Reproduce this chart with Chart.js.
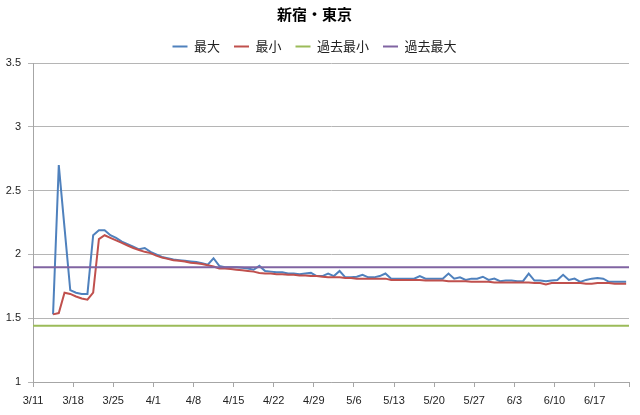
<!DOCTYPE html>
<html>
<head>
<meta charset="utf-8">
<script src="https://cdn.jsdelivr.net/npm/chart.js@4"></script>
<style>
  html, body { margin: 0; padding: 0; background: #fff; }
  #wrap { width: 640px; height: 415px; }
</style>
</head>
<body>
<div id="wrap"><canvas id="grafico" width="640" height="415"></canvas></div>
<script>
// 新宿・東京 daily readings, 2011
const titulo = '新宿・東京';
const nomes = ['最大', '最小', '過去最小', '過去最大'];
const cores = ['#4F81BD', '#C0504D', '#9BBB59', '#8064A2'];

const inicioEixo = [2011, 2, 11];   // 3/11, axis start
const inicioDados = [2011, 2, 14];  // 3/14, first reading
const diasEixo = 104;               // 3/11 .. 6/23
const passoTicks = 7;

// 3/14 .. 6/22
const valoresMax = [
  1.53, 2.70, 2.21, 1.72, 1.70, 1.69, 1.69, 2.15, 2.19, 2.19,
  2.15, 2.13, 2.10, 2.08, 2.06, 2.04, 2.05, 2.02, 2.00, 1.98,
  1.97, 1.96, 1.955, 1.95, 1.945, 1.94, 1.93, 1.92, 1.97, 1.91,
  1.90, 1.90, 1.90, 1.895, 1.89, 1.88, 1.91, 1.87, 1.865, 1.86,
  1.86, 1.85, 1.85, 1.845, 1.85, 1.855, 1.83, 1.83, 1.85, 1.83,
  1.87, 1.82, 1.82, 1.825, 1.84, 1.82, 1.82, 1.83, 1.85, 1.81,
  1.81, 1.81, 1.81, 1.81, 1.83, 1.81, 1.81, 1.81, 1.81, 1.85,
  1.81, 1.82, 1.80, 1.81, 1.81, 1.825, 1.80, 1.81, 1.79, 1.795,
  1.795, 1.79, 1.79, 1.85, 1.795, 1.795, 1.79, 1.795, 1.80, 1.84,
  1.80, 1.81, 1.785, 1.80, 1.81, 1.815, 1.81, 1.785, 1.785, 1.785,
  1.785
];
const valoresMin = [
  1.53, 1.54, 1.70, 1.69, 1.67, 1.655, 1.645, 1.70, 2.12, 2.15,
  2.13, 2.11, 2.09, 2.07, 2.05, 2.035, 2.02, 2.01, 1.99, 1.975,
  1.965, 1.955, 1.95, 1.945, 1.935, 1.93, 1.925, 1.915, 1.905, 1.89,
  1.89, 1.885, 1.88, 1.875, 1.87, 1.865, 1.855, 1.85, 1.85, 1.845,
  1.845, 1.84, 1.84, 1.835, 1.835, 1.83, 1.83, 1.825, 1.82, 1.82,
  1.82, 1.815, 1.815, 1.81, 1.81, 1.81, 1.81, 1.81, 1.81, 1.80,
  1.80, 1.80, 1.80, 1.80, 1.80, 1.795, 1.795, 1.795, 1.795, 1.79,
  1.79, 1.79, 1.79, 1.785, 1.785, 1.785, 1.785, 1.78, 1.78, 1.78,
  1.78, 1.78, 1.78, 1.78, 1.775, 1.775, 1.765, 1.775, 1.775, 1.775,
  1.775, 1.775, 1.775, 1.77, 1.77, 1.775, 1.775, 1.775, 1.77, 1.77,
  1.77
];
const passadoMin = 1.44;
const passadoMax = 1.90;

const yTicks = { min: 1, max: 3.5, step: 0.5 };

const fonteJp = '"Noto Sans CJK JP", "Noto Sans", sans-serif';
const fonteNum = '"Liberation Sans", Arial, sans-serif';

function diaDoEixo(d) {
  var ini = new Date(inicioEixo[0], inicioEixo[1], inicioEixo[2]);
  return Math.round((d - ini) / 86400000);
}

function rotulo(n) {
  var d = new Date(inicioEixo[0], inicioEixo[1], inicioEixo[2] + n);
  return (d.getMonth() + 1) + '/' + d.getDate();
}

// each reading sits in the middle of its day slot
function pontos(valores) {
  return valores.map((v, i) => {
    var d = new Date(inicioDados[0], inicioDados[1], inicioDados[2] + i);
    return { x: diaDoEixo(d) + 0.5, y: v };
  });
}

function linhaFixa(v) {
  return [{ x: 0, y: v }, { x: diasEixo, y: v }];
}

var tickDias = [];
for (var t = 0; t <= diasEixo; t += passoTicks) tickDias.push(t);
tickDias.push(diasEixo);

const series = [pontos(valoresMax), pontos(valoresMin), linhaFixa(passadoMin), linhaFixa(passadoMax)];

new Chart(document.getElementById('grafico'), {
  type: 'line',
  data: {
    datasets: series.map((dados, i) => ({
      label: nomes[i],
      data: dados,
      borderColor: cores[i],
      backgroundColor: cores[i],
      borderWidth: 2,
      pointRadius: 0,
      tension: 0,
      fill: false,
      order: 4 - i // later series on top, like the original
    }))
  },
  options: {
    responsive: false,
    animation: false,
    layout: { padding: { left: 0, right: 11, top: 0, bottom: 0 } },
    plugins: {
      title: {
        display: true,
        text: titulo,
        color: '#000',
        font: { family: fonteJp, size: 15, weight: 'bold' },
        padding: { top: 5, bottom: 3 }
      },
      legend: {
        position: 'top',
        labels: {
          color: '#222',
          font: { family: fonteJp, size: 13 },
          usePointStyle: true,
          pointStyle: 'line',
          pointStyleWidth: 15,
          boxWidth: 15,
          padding: 14,
          sort: (a, b) => a.datasetIndex - b.datasetIndex
        }
      },
      tooltip: { enabled: false }
    },
    scales: {
      x: {
        type: 'linear',
        min: 0,
        max: diasEixo,
        afterBuildTicks: (s) => { s.ticks = tickDias.map(v => ({ value: v })); },
        afterFit: (s) => { s.height = 33; },
        grid: { drawOnChartArea: false, drawTicks: true, tickLength: 5, color: '#a6a6a6' },
        border: { color: '#a6a6a6' },
        ticks: {
          autoSkip: false,
          maxRotation: 0,
          padding: 7,
          color: '#222',
          font: { family: fonteNum, size: 11 },
          callback: (v) => (v % passoTicks === 0 ? rotulo(v) : '')
        }
      },
      y: {
        min: yTicks.min,
        max: yTicks.max,
        afterFit: (s) => { s.width = 33; },
        grid: { color: '#b5b5b5', tickLength: 5 },
        border: { color: '#a6a6a6' },
        ticks: {
          stepSize: yTicks.step,
          padding: 7,
          color: '#222',
          font: { family: fonteNum, size: 11 },
          callback: (v) => String(v)
        }
      }
    }
  }
});
</script>
</body>
</html>
